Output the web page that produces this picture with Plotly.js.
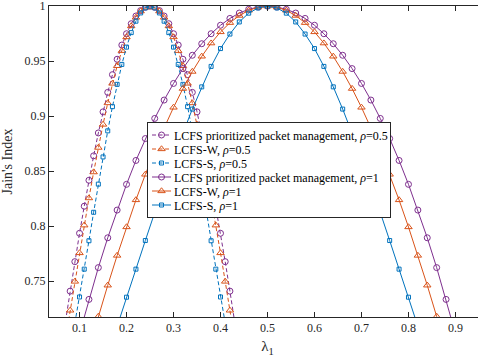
<!DOCTYPE html>
<html>
<head>
<meta charset="utf-8">
<script src="https://cdn.plot.ly/plotly-3.0.1.min.js"></script>
<style>
html,body{margin:0;padding:0;overflow:hidden;background:#fff;}
#chart{width:487px;height:360px;}
</style>
</head>
<body>
<div id="chart"></div>
<script>
// lambda_1 values
var lam05 = [0.07,0.08,0.09,0.10,0.11,0.12,0.13,0.14,0.15,0.16,0.17,0.18,0.19,0.20,0.21,0.22,0.23,0.24,0.25,0.26,0.27,0.28,0.29,0.30,0.31,0.32,0.33,0.34,0.35,0.36,0.37,0.38,0.39,0.40,0.41,0.42,0.43];
var lam1 = [0.10,0.12,0.14,0.16,0.18,0.20,0.22,0.24,0.26,0.28,0.30,0.32,0.34,0.36,0.38,0.40,0.42,0.44,0.46,0.48,0.50,0.52,0.54,0.56,0.58,0.60,0.62,0.64,0.66,0.68,0.70,0.72,0.74,0.76,0.78,0.80,0.82,0.84,0.86,0.88,0.90];

// Jain's index, rho = 0.5
var lcfsP05 = [0.7135,0.7410,0.7678,0.7936,0.8182,0.8418,0.8640,0.8848,0.9040,0.9217,0.9378,0.9518,0.9647,0.9750,0.9841,0.9911,0.9960,0.9990,1.0000,0.9990,0.9960,0.9911,0.9841,0.9750,0.9647,0.9518,0.9378,0.9217,0.9040,0.8848,0.8640,0.8418,0.8182,0.7936,0.7678,0.7410,0.7135];
var lcfsW05 = [0.6970,0.7235,0.7498,0.7757,0.8009,0.8256,0.8492,0.8715,0.8925,0.9120,0.9298,0.9458,0.9595,0.9720,0.9820,0.9898,0.9955,0.9989,1.0000,0.9989,0.9955,0.9898,0.9820,0.9720,0.9595,0.9458,0.9298,0.9120,0.8925,0.8715,0.8492,0.8256,0.8009,0.7757,0.7498,0.7235,0.6970];
var lcfsS05 = [null,null,0.7118,0.7357,0.7610,0.7868,0.8127,0.8383,0.8630,0.8867,0.9087,0.9290,0.9471,0.9628,0.9760,0.9864,0.9939,0.9985,1.0000,0.9985,0.9939,0.9864,0.9760,0.9628,0.9471,0.9290,0.9087,0.8867,0.8630,0.8383,0.8127,0.7868,0.7610,0.7357,0.7118,null,null];

// Jain's index, rho = 1
var lcfsP1 = [0.7024,0.7335,0.7624,0.7895,0.8147,0.8381,0.8598,0.8797,0.8980,0.9147,0.9298,0.9433,0.9554,0.9659,0.9750,0.9827,0.9889,0.9938,0.9972,0.9993,1.0000,0.9993,0.9972,0.9938,0.9889,0.9827,0.9750,0.9659,0.9554,0.9433,0.9298,0.9147,0.8980,0.8797,0.8598,0.8381,0.8147,0.7895,0.7624,0.7335,0.7024];
var lcfsW1 = [null,0.6888,0.7180,0.7463,0.7734,0.7993,0.8239,0.8471,0.8689,0.8893,0.9080,0.9251,0.9406,0.9544,0.9664,0.9766,0.9850,0.9915,0.9962,0.9991,1.0000,0.9991,0.9962,0.9915,0.9850,0.9766,0.9664,0.9544,0.9406,0.9251,0.9080,0.8893,0.8689,0.8471,0.8239,0.7993,0.7734,0.7463,0.7180,0.6888,null];
var lcfsS1 = [null,null,null,null,0.7090,0.7355,0.7610,0.7870,0.8125,0.8370,0.8610,0.8845,0.9065,0.9267,0.9453,0.9615,0.9747,0.9857,0.9937,0.9984,1.0000,0.9984,0.9937,0.9857,0.9747,0.9615,0.9453,0.9267,0.9065,0.8845,0.8610,0.8370,0.8125,0.7870,0.7610,0.7355,0.7090,null,null,null,null];

var xTicks = [0.1,0.2,0.3,0.4,0.5,0.6,0.7,0.8,0.9];
var xTickText = ['0.1','0.2','0.3','0.4','0.5','0.6','0.7','0.8','0.9'];
var yTicks = [0.75,0.8,0.85,0.9,0.95,1];
var yTickText = ['0.75','0.8','0.85','0.9','0.95','1'];

var names = [
  'LCFS prioritized packet management, <i>ρ</i>=0.5',
  'LCFS-W, <i>ρ</i>=0.5',
  'LCFS-S, <i>ρ</i>=0.5',
  'LCFS prioritized packet management, <i>ρ</i>=1',
  'LCFS-W, <i>ρ</i>=1',
  'LCFS-S, <i>ρ</i>=1'
];

var PURPLE = '#7E2F8E', ORANGE = '#D95319', BLUE = '#0072BD';
var DASH = '4px,2.5px';
var SERIF = 'Liberation Serif, Times New Roman, Times, DejaVu Serif, serif';

function tr(x, y, name, color, sym, size, dash) {
  return {
    x: x, y: y, name: name, type: 'scatter', mode: 'lines+markers',
    connectgaps: false,
    line: {color: color, width: 1, dash: dash},
    marker: {symbol: sym, size: size, color: color, line: {color: color, width: 1}}
  };
}

var data = [
  tr(lam05, lcfsP05, names[0], PURPLE, 'circle-open', 6, DASH),
  tr(lam05, lcfsW05, names[1], ORANGE, 'triangle-up-open', 6.5, DASH),
  tr(lam05, lcfsS05, names[2], BLUE, 'square-open', 4, DASH),
  tr(lam1, lcfsP1, names[3], PURPLE, 'circle-open', 6, 'solid'),
  tr(lam1, lcfsW1, names[4], ORANGE, 'triangle-up-open', 6.5, 'solid'),
  tr(lam1, lcfsS1, names[5], BLUE, 'square-open', 4, 'solid')
];

var AX = '#262626';
var layout = {
  width: 487, height: 360,
  margin: {l: 49, r: 1, t: 6, b: 43},
  paper_bgcolor: '#fff', plot_bgcolor: '#fff',
  font: {family: SERIF, color: AX, size: 12},
  showlegend: true,
  legend: {
    x: 0.2243, y: 0.627, xanchor: 'left', yanchor: 'top',
    bgcolor: '#fff', bordercolor: AX, borderwidth: 1,
    font: {family: SERIF, size: 12, color: '#000'},
    itemwidth: 30, tracegroupgap: 0
  },
  xaxis: {
    range: [0.035, 0.965],
    tickvals: xTicks, ticktext: xTickText,
    ticks: 'inside', ticklen: 5, tickcolor: AX, tickwidth: 1,
    showline: true, linecolor: AX, linewidth: 1, mirror: 'ticks',
    showgrid: false, zeroline: false, ticklabeloverflow: 'allow',
    tickfont: {family: SERIF, size: 12, color: AX},
    title: {text: 'λ<sub>1</sub>', font: {family: SERIF, size: 15, color: AX}, standoff: 6}
  },
  yaxis: {
    range: [0.7175, 1.0002],
    tickvals: yTicks, ticktext: yTickText,
    ticks: 'inside', ticklen: 5, tickcolor: AX, tickwidth: 1,
    showline: true, linecolor: AX, linewidth: 1, mirror: 'ticks',
    showgrid: false, zeroline: false, ticklabeloverflow: 'allow',
    tickfont: {family: SERIF, size: 12, color: AX},
    title: {text: "Jain's Index", font: {family: SERIF, size: 14, color: AX}, standoff: 8}
  }
};

Plotly.newPlot('chart', data, layout, {displayModeBar: false, staticPlot: true}).then(function (gd) {
  // compact the legend like the reference: ~14 px rows, short symbol samples
  var leg = gd.querySelector('.legend');
  if (!leg) return;
  var items = leg.querySelectorAll('.traces');
  if (items.length < 2) return;
  var re = /translate\(\s*([-\d.]+)[ ,]+([-\d.]+)\s*\)/;
  var m0 = re.exec(items[0].getAttribute('transform'));
  var m1 = re.exec(items[1].getAttribute('transform'));
  if (!m0 || !m1) return;
  var x0 = parseFloat(m0[1]), y0 = parseFloat(m0[2]);
  var oldStep = parseFloat(m1[2]) - y0;
  var step = 14;
  var shiftTop = -(oldStep - step) / 2;
  var dx = 14;
  var maxRight = 0;
  for (var i = 0; i < items.length; i++) {
    var it = items[i];
    it.setAttribute('transform', 'translate(' + x0 + ',' + (y0 + shiftTop + i * step) + ')');
    it.querySelectorAll('.legendlines path').forEach(function (p) { p.setAttribute('d', 'M4,0h19'); });
    it.querySelectorAll('.legendpoints path').forEach(function (p) { p.setAttribute('transform', 'translate(13.5,0)'); });
    it.querySelectorAll('text.legendtext').forEach(function (t) {
      t.setAttribute('transform', 'translate(' + (-dx) + ',0)');
      try {
        var bb = t.getBBox();
        maxRight = Math.max(maxRight, x0 + bb.x + bb.width - dx);
      } catch (e) {}
    });
    it.querySelectorAll('rect.legendtoggle').forEach(function (r) { r.setAttribute('height', step); });
  }
  var cut = (oldStep - step) * items.length;
  leg.querySelectorAll('rect.bg').forEach(function (r) {
    var h = parseFloat(r.getAttribute('height'));
    if (!isNaN(h)) r.setAttribute('height', Math.max(0, h - cut));
    var bx = parseFloat(r.getAttribute('x')) || 0;
    if (maxRight > 0) r.setAttribute('width', maxRight + 3 - bx);
  });
});
</script>
</body>
</html>
